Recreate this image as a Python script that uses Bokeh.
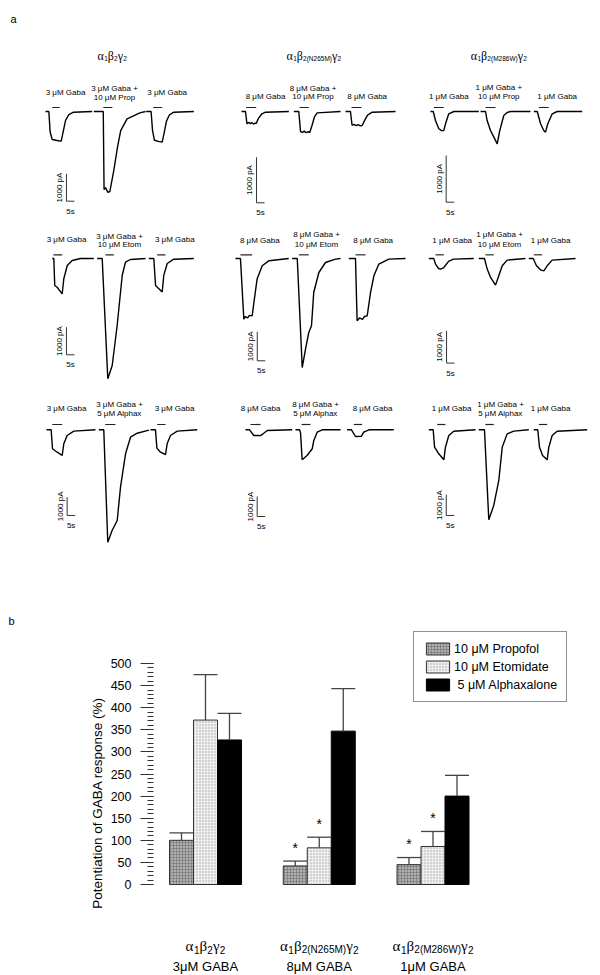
import math
from bokeh.plotting import figure
from bokeh.models import Range1d, ColumnDataSource, FixedTicker, Legend, LegendItem
from bokeh.layouts import column
from bokeh.transform import dodge
from bokeh.core.properties import value
from bokeh.embed import file_html
from bokeh.resources import INLINE

SANS = "Liberation Sans"
SERIF = "Liberation Serif"

# ---------------------------------------------------------------- names
RECEPTORS = [["α", "1", "β", "2", "γ", "2"],
             ["α", "1", "β", "2(N265M)", "γ", "2"],
             ["α", "1", "β", "2(M286W)", "γ", "2"]]
GABA_CONC = ["3μM GABA", "8μM GABA", "1μM GABA"]
GABA_SHORT = ["3 μM Gaba", "8 μM Gaba", "1 μM Gaba"]
ROW_DRUGS = ["10 μM Prop", "10 μM Etom", "5 μM Alphax"]
SCALE_PA = 1000      # vertical scale bar (pA)
SCALE_S = 5          # horizontal scale bar (s)

# ---------------------------------------------------------------- traces (time s, current pA)
R1C1_T = [[0, 2.1, 2.9, 4.2, 6.0, 8.0, 9.8, 11.0, 12.5, 14.6, 17.5, 29.2],
          [30.2, 36.1, 36.6, 37.5, 39.0, 40.2, 42.7, 45.0, 47.0, 51.0, 59.0, 62.5],
          [62.9, 66.0, 66.9, 68.1, 70.5, 72.9, 74.1, 75.6, 77.5, 80.2, 92.7]]
R1C1_I = [[0, 0, -750, -1020, -1040, -1070, -1080, -750, -330, -110, -25, 0],
          [0, 0, -2850, -2780, -2950, -2920, -2150, -1300, -700, -270, -50, 0],
          [0, 0, -700, -1050, -1090, -1120, -800, -350, -120, -25, 0]]
R1C1_APP = [(4.2, 8.9), (36.1, 41.8), (67.3, 72.9)]

R1C2_T = [[0, 2.5, 3.4, 4.5, 5.5, 6.5, 7.5, 8.5, 9.2, 10.6, 12.5, 15.0, 29.6],
          [32.7, 35.8, 36.9, 38.0, 39.2, 40.3, 41.5, 42.7, 44.1, 45.6, 47.3, 61.9],
          [65.0, 68.1, 69.1, 70.5, 71.8, 73.0, 74.2, 75.4, 76.9, 78.8, 81.7, 96.3]]
R1C2_I = [[0, 0, -270, -240, -265, -245, -275, -255, -260, -150, -60, -15, 0],
          [0, 0, -440, -460, -430, -465, -445, -454, -300, -120, -30, 0],
          [0, 0, -300, -285, -310, -290, -315, -307, -200, -80, -15, 0]]
R1C2_APP = [(2.9, 9.2), (36.3, 42.1), (68.8, 75.0)]

R1C3_T = [[0, 1.7, 3.1, 5.2, 6.9, 8.3, 9.4, 11.4, 14.6, 30.2],
          [31.3, 34.4, 35.4, 37.5, 39.6, 41.7, 43.3, 45.8, 47.9, 50.0, 62.5],
          [64.6, 66.7, 68.8, 70.8, 71.9, 73.3, 76.1, 79.2, 94.8]]
R1C3_I = [[0, 0, -193, -370, -410, -407, -263, -50, 0, 0],
          [0, 0, -193, -407, -550, -692, -407, -86, -21, 0, 0],
          [0, 0, -263, -407, -443, -263, -50, 0, 0]]
R1C3_APP = [(2.1, 8.3), (34.4, 40.6), (67.7, 73.9)]

R2C1_T = [[0, 1.0, 1.6, 3.1, 6.25, 7.25, 9.4, 12.5, 17.7, 26.0],
          [28.1, 31.25, 34.75, 37.5, 40.6, 43.75, 45.8, 48.9, 58.3],
          [60.4, 63.5, 64.6, 68.75, 69.75, 71.9, 76.0, 88.5]]
R2C1_I = [[0, 0, -978, -1040, -1280, -735, -254, -72, 0, 0],
          [0, 0, -4360, -3877, -2428, -616, -134, -36, 0],
          [0, 0, -978, -1210, -604, -180, -25, 0]]
R2C1_APP = [(0.8, 6.25), (33.3, 38.5), (65.6, 70.8)]

R2C2_T = [[0, 3.1, 5.2, 6.25, 7.5, 8.75, 10.4, 11.5, 13.5, 16.7, 20.8, 33.3],
          [35.4, 38.6, 41.7, 43.75, 45.8, 47.5, 48.9, 52.1, 56.25, 62.5, 65.6],
          [70.8, 75.0, 76.0, 77.5, 79.4, 80.6, 82.3, 84.4, 86.5, 89.6, 95.8, 106.25]]
R2C2_I = [[0, 0, -2090, -2000, -2050, -1960, -1977, -1517, -710, -252, -80, 0],
          [0, 0, -3760, -3124, -2552, -2320, -1172, -483, -138, -20, 0],
          [0, 0, -2150, -2050, -2100, -2000, -1977, -1172, -597, -193, -20, 0]]
R2C2_APP = [(3.1, 10.4), (39.6, 45.8), (75.0, 81.25)]

R2C3_T = [[0, 3.1, 4.2, 6.1, 7.3, 9.4, 12.5, 15.6, 28.1],
          [31.25, 34.8, 36.5, 38.6, 41.7, 43.75, 45.9, 49.0, 60.4],
          [62.5, 65.25, 67.3, 69.8, 71.9, 74.0, 77.1, 91.7]]
R2C3_I = [[0, 0, -173, -310, -328, -279, -80, -20, 0],
          [0, 0, -328, -588, -824, -536, -227, -50, 0],
          [0, 0, -227, -350, -381, -227, -50, 0]]
R2C3_APP = [(4.2, 9.4), (35.4, 40.6), (65.6, 70.8)]

R3C1_T = [[0, 2.9, 3.75, 6.7, 9.8, 10.8, 12.9, 17.1, 30.6],
          [32.7, 35.8, 38.3, 41.0, 44.2, 46.25, 49.4, 52.5, 56.7, 64.0],
          [65.0, 68.1, 69.0, 71.25, 74.4, 75.4, 77.5, 81.7, 94.2]]
R3C1_I = [[0, 0, -1038, -1224, -1404, -765, -311, -73, 0],
          [0, 0, -6142, -5503, -4956, -3137, -1311, -404, -186, -20],
          [0, 0, -1000, -1224, -1350, -765, -311, -73, 0]]
R3C1_APP = [(3.6, 9.8), (36.7, 43.1), (69.2, 74.4)]

R3C2_T = [[0, 2.5, 5.2, 7.3, 9.4, 11.4, 13.6, 29.2],
          [31.25, 33.75, 34.4, 35.4, 38.5, 41.7, 42.7, 44.8, 47.9, 59.4],
          [63.5, 66.25, 68.75, 72.5, 73.9, 77.1, 92.7]]
R3C2_I = [[0, 0, -285, -280, -290, -170, -35, 0],
          [0, 0, -150, -1500, -1283, -950, -533, -117, 0, 0],
          [0, 0, -335, -320, -120, 0, 0]]
R3C2_APP = [(3.1, 9.4), (35.0, 40.6), (67.7, 72.9)]

R3C3_T = [[0, 2.75, 3.6, 6.25, 9.4, 10.4, 12.5, 15.6, 29.2],
          [31.25, 34.8, 37.5, 40.6, 43.75, 45.9, 49.0, 53.1, 62.5],
          [65.6, 68.1, 69.2, 71.1, 74.0, 75.0, 77.1, 80.2, 99.0]]
R3C3_I = [[0, 0, -829, -1143, -1429, -829, -271, -67, 0],
          [0, 0, -4286, -3603, -2413, -825, -190, -64, 0],
          [0, 0, -829, -1224, -1429, -829, -271, -67, 0]]
R3C3_APP = [(5.25, 10.4), (35.4, 40.6), (68.75, 74.0)]

TRACE_T = [[R1C1_T, R1C2_T, R1C3_T], [R2C1_T, R2C2_T, R2C3_T], [R3C1_T, R3C2_T, R3C3_T]]
TRACE_I = [[R1C1_I, R1C2_I, R1C3_I], [R2C1_I, R2C2_I, R2C3_I], [R3C1_I, R3C2_I, R3C3_I]]
APPS = [[R1C1_APP, R1C2_APP, R1C3_APP], [R2C1_APP, R2C2_APP, R2C3_APP], [R3C1_APP, R3C2_APP, R3C3_APP]]

# ---------------------------------------------------------------- bar chart data
GROUPS = [1, 2, 3]
PROPOFOL_MEAN = [100, 42, 45]
PROPOFOL_SEM = [17, 11, 16]
ETOMIDATE_MEAN = [372, 83, 86]
ETOMIDATE_SEM = [103, 24, 34]
ALPHAXALONE_MEAN = [327, 347, 200]
ALPHAXALONE_SEM = [60, 96, 47]
PROPOFOL_SIG = [False, True, True]
ETOMIDATE_SIG = [False, True, True]
Y_TICKS = list(range(0, 501, 50))
Y_MINOR = list(range(0, 501, 10))
LEGEND_LABELS = ["10 μM Propofol", "10 μM Etomidate", " 5 μM Alphaxalone"]

# ---------------------------------------------------------------- layout (pixels of the page image)
PX_PER_S = 1.6
PANEL_X0 = [[45, 241, 430], [51.7, 235, 428.3], [46, 245, 428.3]]
ROW_BASE_Y = [111, 258, 429.3]
PX_PER_1000PA = [[27.4, 45.6, 46.7], [27.6, 29.0, 32.3], [18.3, 20.0, 21.0]]
APP_BAR_PX = [4, 3.7, 5.3]
SCALEBAR = [[(13.1, -3274), (9.4, -2002), (9.8, -1942)],
            [(8.9, -3489), (13.6, -3528), (11.1, -3238)],
            [(12.9, -4683), (7.3, -4335), (10.9, -4081)]]
HEADER_X = [111.7, 313.3, 498.3]
HEADER_Y = 55
LABEL_POS = [
    [dict(l=(65, 91.7), m=(114, 88.3, 96.5), r=(166.7, 91.7)),
     dict(l=(265, 95.7), m=(312.5, 87.7, 96.2), r=(366.7, 95.7)),
     dict(l=(448.3, 95.7), m=(498.3, 87.3, 95.8), r=(556.7, 95.7))],
    [dict(l=(66, 239), m=(119, 235.5, 244.3), r=(174.3, 239)),
     dict(l=(259.3, 240), m=(316, 234.3, 244.3), r=(372.7, 240)),
     dict(l=(451.7, 240), m=(499, 233.5, 243.5), r=(550, 240))],
    [dict(l=(66, 408), m=(119, 404, 413), r=(174, 408)),
     dict(l=(260, 408), m=(315, 404, 413), r=(372, 408)),
     dict(l=(451, 408), m=(500, 404, 413), r=(550, 408))],
]
PAGE_W = 600
TOP_H = 630
BOT_H = 345
FL, FR, FT, FB = 0, PAGE_W, 0, TOP_H

EM = {"0": .556, "1": .556, "2": .556, "3": .556, "4": .556, "5": .556, "6": .556, "7": .556,
      "8": .556, "9": .556, "(": .333, ")": .333, "N": .722, "M": .833, "W": .944, " ": .278,
      "α": .56, "β": .52, "γ": .46}


def tw(s, size):
    return sum(EM.get(ch, .56) for ch in s) * size


def receptor_text(p, x, y, parts, gsize, ssize, sub_dy):
    segs = []
    for i, part in enumerate(parts):
        sub = (i % 2 == 1)
        size = ssize if sub else gsize
        segs.append((part, size, SANS if sub else SERIF, sub_dy if sub else 0, tw(part, size)))
    off = -sum(s[4] for s in segs) / 2
    for part, size, font, dy, w in segs:
        p.text(x=[x], y=[y], text=[part], x_offset=off, y_offset=dy, text_align="left",
               text_baseline="alphabetic", text_font=value(font), text_font_size=f"{size}px",
               text_color="black")
        off += w


# ================================================================ top figure (panel a)
p1 = figure(width=PAGE_W, height=TOP_H, x_range=Range1d(FL, FR), y_range=Range1d(FB, FT),
            x_axis_location=None, y_axis_location=None, toolbar_location=None,
            output_backend="svg", min_border=0, outline_line_color=None, frame_align=False)
p1.grid.grid_line_color = None

for r in range(3):
    for c in range(3):
        name = f"r{r}c{c}"
        x0 = PANEL_X0[r][c]
        y0 = ROW_BASE_Y[r]
        sy = PX_PER_1000PA[r][c] / 1000.0
        p1.extra_x_ranges[name] = Range1d((FL - x0) / PX_PER_S, (FR - x0) / PX_PER_S)
        p1.extra_y_ranges[name] = Range1d((y0 - FB) / sy, (y0 - FT) / sy)
        kw = dict(x_range_name=name, y_range_name=name)
        for ts, cs in zip(TRACE_T[r][c], TRACE_I[r][c]):
            p1.line(ts, cs, line_color="black", line_width=1.4, **kw)
        lvl = APP_BAR_PX[r] / sy
        for (a, b) in APPS[r][c]:
            p1.line([a, b], [lvl, lvl], line_color="#222", line_width=1.2, **kw)
        st, sb = SCALEBAR[r][c]
        p1.line([st, st, st + SCALE_S], [sb + SCALE_PA, sb, sb], line_color="#333",
                line_width=1, **kw)
        p1.text(x=[st], y=[sb + SCALE_PA / 2], text=[f"{SCALE_PA} pA"], angle=math.pi / 2,
                x_offset=-7, text_align="center", text_baseline="middle",
                text_font=value(SANS), text_font_size="8px", text_color="black", **kw)
        p1.text(x=[st + SCALE_S / 2], y=[sb], text=[f"{SCALE_S}s"], y_offset=10,
                text_align="center", text_baseline="middle",
                text_font=value(SANS), text_font_size="8px", text_color="black", **kw)
        lp = LABEL_POS[r][c]
        lab = dict(text_align="center", text_baseline="middle", text_font=value(SANS),
                   text_font_size="8px", text_color="black")
        p1.text(x=[lp["l"][0]], y=[lp["l"][1]], text=[GABA_SHORT[c]], **lab)
        p1.text(x=[lp["r"][0]], y=[lp["r"][1]], text=[GABA_SHORT[c]], **lab)
        p1.text(x=[lp["m"][0], lp["m"][0]], y=[lp["m"][1], lp["m"][2]],
                text=[GABA_SHORT[c] + " +", ROW_DRUGS[r]], **lab)

for c in range(3):
    receptor_text(p1, HEADER_X[c], HEADER_Y, RECEPTORS[c], 12, 6.5, 3)

p1.text(x=[10, 8], y=[18, 620], text=["a", "b"], text_align="left", text_baseline="middle",
        text_font=value(SANS), text_font_size="11px", text_color="black")

# ================================================================ bottom figure (panel b)
Y0_PX = 884.0
PX_PER_UNIT = 0.442
GROUP_PX = 113.75
G1_PX = 205.0
FRAME_LEFT_PX = 153
W = 24.0 / GROUP_PX
top_img = TOP_H
yr = Range1d((Y0_PX - (top_img + BOT_H)) / PX_PER_UNIT, (Y0_PX - top_img) / PX_PER_UNIT)
xr = Range1d(1 - (G1_PX - FRAME_LEFT_PX) / GROUP_PX, 1 + (PAGE_W - G1_PX) / GROUP_PX)

p2 = figure(width=PAGE_W, height=BOT_H, x_range=xr, y_range=yr, x_axis_location=None,
            toolbar_location=None, output_backend="svg", min_border_left=FRAME_LEFT_PX,
            min_border_right=0, min_border_top=0, min_border_bottom=0, outline_line_color=None,
            frame_align=False)
p2.grid.grid_line_color = None

src = ColumnDataSource(dict(
    g=GROUPS,
    prop=PROPOFOL_MEAN, prop_hi=[m + s for m, s in zip(PROPOFOL_MEAN, PROPOFOL_SEM)],
    etom=ETOMIDATE_MEAN, etom_hi=[m + s for m, s in zip(ETOMIDATE_MEAN, ETOMIDATE_SEM)],
    alph=ALPHAXALONE_MEAN, alph_hi=[m + s for m, s in zip(ALPHAXALONE_MEAN, ALPHAXALONE_SEM)],
))

r_prop = p2.vbar(x=dodge("g", -W, range=xr), top="prop", bottom=0, width=W, source=src,
                 fill_color="#b0b0b0", hatch_pattern="cross", hatch_color="#707070",
                 hatch_scale=3, hatch_weight=0.6, line_color="#333", line_width=1)
r_etom = p2.vbar(x=dodge("g", 0, range=xr), top="etom", bottom=0, width=W, source=src,
                 fill_color="#eeeeee", hatch_pattern="dot", hatch_color="#a5a5a5",
                 hatch_scale=3, hatch_weight=0.8, line_color="#333", line_width=1)
r_alph = p2.vbar(x=dodge("g", W, range=xr), top="alph", bottom=0, width=W, source=src,
                 fill_color="black", line_color="black", line_width=1)

for off, lo, hi in [(-W, "prop", "prop_hi"), (0, "etom", "etom_hi"), (W, "alph", "alph_hi")]:
    p2.segment(x0=dodge("g", off, range=xr), y0=lo, x1=dodge("g", off, range=xr), y1=hi,
               source=src, line_color="#444", line_width=1.3)
    p2.segment(x0=dodge("g", off - W / 2, range=xr), y0=hi, x1=dodge("g", off + W / 2, range=xr),
               y1=hi, source=src, line_color="#444", line_width=1.3)

ast_x, ast_y = [], []
for g, sig, m, s in zip(GROUPS, PROPOFOL_SIG, PROPOFOL_MEAN, PROPOFOL_SEM):
    if sig:
        ast_x.append(g - W); ast_y.append(m + s + 30)
for g, sig, m, s in zip(GROUPS, ETOMIDATE_SIG, ETOMIDATE_MEAN, ETOMIDATE_SEM):
    if sig:
        ast_x.append(g); ast_y.append(m + s + 30)
p2.text(x=ast_x, y=ast_y, text=["*"] * len(ast_x), text_align="center", text_baseline="middle",
        text_font=value(SANS), text_font_size="14px", text_color="black")

legend = Legend(items=[LegendItem(label=LEGEND_LABELS[0], renderers=[r_prop]),
                       LegendItem(label=LEGEND_LABELS[1], renderers=[r_etom]),
                       LegendItem(label=LEGEND_LABELS[2], renderers=[r_alph])],
                location=(413 - FRAME_LEFT_PX, int(top_img + BOT_H) - 702),
                orientation="vertical", padding=9, spacing=3, margin=0,
                glyph_width=29, glyph_height=15, label_height=15, label_width=20,
                label_standoff=2, label_text_font=SANS, label_text_font_size="12.5px",
                label_text_color="black", border_line_color="#222", border_line_width=1,
                background_fill_color="white", background_fill_alpha=1)
p2.add_layout(legend)

ax = p2.yaxis[0]
ax.ticker = FixedTicker(ticks=Y_TICKS, minor_ticks=Y_MINOR)
ax.bounds = (0, 500)
ax.axis_line_color = None
ax.major_tick_line_color = "#333"
ax.minor_tick_line_color = "#333"
ax.major_tick_out = 13
ax.major_tick_in = 0
ax.minor_tick_out = 6
ax.minor_tick_in = 0
ax.major_label_standoff = 9
ax.major_label_text_font = SANS
ax.major_label_text_font_size = "12.5px"
ax.major_label_text_color = "black"
ax.axis_label = "Potentiation of GABA response (%)"
ax.axis_label_text_font = SANS
ax.axis_label_text_font_size = "13.5px"
ax.axis_label_text_font_style = "normal"
ax.axis_label_text_color = "black"
ax.axis_label_standoff = 3

lab1_y = (Y0_PX - 945) / PX_PER_UNIT
lab2_y = (Y0_PX - 966) / PX_PER_UNIT
for g, parts, conc in zip(GROUPS, RECEPTORS, GABA_CONC):
    receptor_text(p2, g, lab1_y, parts, 15, 10, 4)
p2.text(x=GROUPS, y=[lab2_y] * 3, text=GABA_CONC, text_align="center",
        text_baseline="alphabetic", text_font=value(SANS), text_font_size="13px",
        text_color="black")

layout = column(p1, p2, spacing=0)
open("out.html", "w").write(file_html(layout, INLINE))
